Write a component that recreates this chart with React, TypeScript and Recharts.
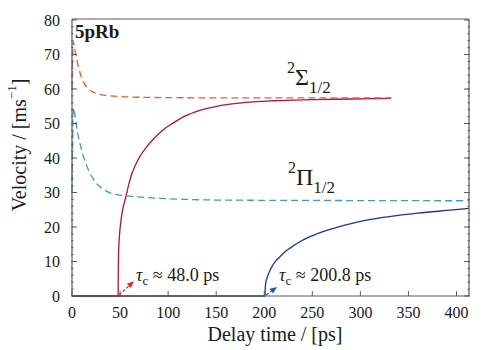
import { LineChart, Line, XAxis, YAxis, ReferenceLine, ReferenceDot } from 'recharts';

// [delay time (ps), velocity (m/s)]
const sigmaTransient: [number, number][] = [
  [0, 60], [0.4, 66], [0.8, 71], [1.4, 73.7], [3, 71.2], [5, 68.6], [7, 66.1],
  [9, 64.1], [12, 62], [16, 60.3], [22, 59.1], [30, 58.4], [40, 58], [60, 57.7],
  [100, 57.5], [200, 57.4], [332, 57.4],
];
const piTransient: [number, number][] = [
  [0, 30], [0.5, 42], [1, 51], [1.6, 54.6], [2.5, 53.6], [4, 50.5], [6, 47],
  [8, 44.5], [10, 42.3], [14, 38.7], [18, 36], [22, 34], [27, 32.2], [33, 30.9],
  [39.5, 29.9], [48, 29.3], [57, 29], [75, 28.6], [92, 28.3], [120, 28],
  [154, 27.8], [250, 27.7], [413, 27.6],
];
const sigmaRise: [number, number][] = [
  [0, 0], [48, 0], [48.15, 7], [48.4, 12], [49, 16], [50, 19.5], [51, 22],
  [53, 25.4], [56, 28.7], [59, 32.3], [62, 35.2], [66, 38], [71, 40.6], [77, 43],
  [84, 45.3], [94, 48], [105, 50.1], [118, 52.2], [133, 53.8], [154, 55.2],
  [180, 56.1], [210, 56.6], [250, 56.9], [290, 57.1], [332, 57.3],
];
const piRise: [number, number][] = [
  [0, 0], [200.8, 0], [201, 2], [201.6, 3.8], [203, 5.3], [205, 6.8], [208, 8.5],
  [212, 10.2], [216.4, 11.4], [222, 12.9], [228, 14.1], [234, 15.2], [242, 16.5],
  [251, 17.6], [265, 19], [285, 20.6], [305, 21.9], [330, 23], [360, 24],
  [390, 24.8], [413, 25.4],
];

const xMajor = [0, 50, 100, 150, 200, 250, 300, 350, 400];
const yMajor = [0, 10, 20, 30, 40, 50, 60, 70, 80];
const xMinor = Array.from({ length: 42 }, (_, i) => i * 10);
const yMinor = Array.from({ length: 41 }, (_, i) => i * 2);

// onset markers: [start, tip] in data coords
const sigmaOnsetArrow = [{ x: 48.9, y: 0.3 }, { x: 64.5, y: 4.3 }];
const piOnsetArrow = [{ x: 201.9, y: 0.3 }, { x: 213.3, y: 2.6 }];

const toPoints = (d: [number, number][]) => d.map(([t, v]) => ({ t, v }));

const FONT = '"Liberation Serif", "Times New Roman", serif';
const FRAME = '#5a5a5a';
const INK = '#1a1a1a';

const NoLabel = () => <g />;

const XTitle = () => (
  <text x={275} y={341} textAnchor="middle" fontSize={20} fill={INK} fontFamily={FONT}>
    Delay time / [ps]
  </text>
);

const YTitle = () => (
  <text x={18.5} y={145} textAnchor="middle" dominantBaseline="central" fontSize={20} fill={INK}
    fontFamily={FONT} transform="rotate(-90, 18.5, 145)">
    Velocity / [ms<tspan fontSize={13} dy={-8}>−1</tspan><tspan dy={8}>]</tspan>
  </text>
);

const stateLabel = (glyph: string) => (p: any) => {
  const { x, y } = p.viewBox;
  return (
    <text x={x} y={y} fontFamily={FONT} fill={INK}>
      <tspan fontSize={16} dy={-12}>2</tspan>
      <tspan fontSize={24} dy={12}>{glyph}</tspan>
      <tspan fontSize={17} dy={8}>1/2</tspan>
    </text>
  );
};

const boldTag = (p: any) => {
  const { x, y } = p.viewBox;
  return (
    <text x={x} y={y} fontFamily={FONT} fontWeight="bold" fontSize={19} fill={INK}>5pRb</text>
  );
};

const onsetArrow = (color: string, value: string, textDy: number) => (p: any) => {
  const { x1, y1, x2, y2 } = p;
  const dx = x2 - x1;
  const dy = y2 - y1;
  const len = Math.hypot(dx, dy) || 1;
  const ux = dx / len;
  const uy = dy / len;
  const hl = 7;
  const hw = 3;
  const bx = x2 - ux * hl;
  const by = y2 - uy * hl;
  const head = `${x2},${y2} ${bx - uy * hw},${by + ux * hw} ${bx + uy * hw},${by - ux * hw}`;
  return (
    <g>
      <line x1={x1} y1={y1} x2={bx} y2={by} stroke={color} strokeWidth={1.2} strokeDasharray="3 2" />
      <polygon points={head} fill={color} />
      <text x={x2 + 2} y={y2 + textDy} fontFamily={FONT} fontSize={18} fill={INK}>
        <tspan fontStyle="italic">τ</tspan>
        <tspan fontSize={13} dy={4}>c</tspan>
        <tspan dy={-4}>{' ≈ '}{value} ps</tspan>
      </text>
    </g>
  );
};

const frameLine = { stroke: FRAME, strokeWidth: 1.2 };
const tickStroke = { stroke: FRAME };

export default function App() {
  return (
    <div style={{ marginLeft: -8, marginTop: -8 }}>
      <LineChart width={500} height={350} margin={{ top: 18, right: 29, bottom: 52, left: 70 }}
        style={{ fontFamily: FONT }}>
        {/* bottom / top */}
        <XAxis type="number" dataKey="t" domain={[0, 413]} ticks={xMajor} interval={0} height={1}
          tickSize={-5} tickMargin={16} axisLine={frameLine} tickLine={tickStroke}
          tick={{ fill: INK, fontSize: 16, fontFamily: FONT }} label={XTitle} />
        <XAxis xAxisId="bminor" type="number" domain={[0, 413]} allowDataOverflow ticks={xMinor} interval={0}
          height={1} tickSize={-2.5} axisLine={false} tickLine={tickStroke} tick={NoLabel} />
        <XAxis xAxisId="top" orientation="top" type="number" domain={[0, 413]} allowDataOverflow ticks={xMajor}
          interval={0} height={1} tickSize={-5} axisLine={frameLine} tickLine={tickStroke} tick={NoLabel} />
        <XAxis xAxisId="tminor" orientation="top" type="number" domain={[0, 413]} allowDataOverflow ticks={xMinor}
          interval={0} height={1} tickSize={-2.5} axisLine={false} tickLine={tickStroke} tick={NoLabel} />
        {/* left / right */}
        <YAxis type="number" domain={[0, 80]} ticks={yMajor} interval={0} width={1} tickSize={-5}
          tickMargin={17} axisLine={frameLine} tickLine={tickStroke}
          tick={{ fill: INK, fontSize: 16, fontFamily: FONT }} label={YTitle} />
        <YAxis yAxisId="lminor" type="number" domain={[0, 80]} allowDataOverflow ticks={yMinor} interval={0}
          width={1} tickSize={-2.5} axisLine={false} tickLine={tickStroke} tick={NoLabel} />
        <YAxis yAxisId="right" orientation="right" type="number" domain={[0, 80]} allowDataOverflow ticks={yMajor}
          interval={0} width={1} tickSize={-5} axisLine={frameLine} tickLine={tickStroke} tick={NoLabel} />
        <YAxis yAxisId="rminor" orientation="right" type="number" domain={[0, 80]} allowDataOverflow ticks={yMinor}
          interval={0} width={1} tickSize={-2.5} axisLine={false} tickLine={tickStroke} tick={NoLabel} />

        <Line data={toPoints(piRise)} dataKey="v" type="monotone" stroke="#1c3391" strokeWidth={1.3}
          dot={false} isAnimationActive={false} />
        <Line data={toPoints(sigmaRise)} dataKey="v" type="monotone" stroke="#b3123e" strokeWidth={1.3}
          dot={false} isAnimationActive={false} />
        <Line data={toPoints(piTransient)} dataKey="v" type="monotone" stroke="#3d9cc9" strokeWidth={1.3}
          strokeDasharray="7 4" dot={false} isAnimationActive={false} />
        <Line data={toPoints(sigmaTransient)} dataKey="v" type="monotone" stroke="#ec5a3c" strokeWidth={1.3}
          strokeDasharray="7 4" dot={false} isAnimationActive={false} />

        <ReferenceLine segment={sigmaOnsetArrow} shape={onsetArrow('#e3242b', '48.0', 0)} ifOverflow="visible" />
        <ReferenceLine segment={piOnsetArrow} shape={onsetArrow('#2160b0', '200.8', -6)} ifOverflow="visible" />

        <ReferenceDot x={223.7} y={61.2} r={0} fill="none" stroke="none" ifOverflow="visible" label={stateLabel('Σ')} />
        <ReferenceDot x={224.7} y={32.2} r={0} fill="none" stroke="none" ifOverflow="visible" label={stateLabel('Π')} />
        <ReferenceDot x={3} y={74.8} r={0} fill="none" stroke="none" ifOverflow="visible" label={boldTag} />
      </LineChart>
    </div>
  );
}
